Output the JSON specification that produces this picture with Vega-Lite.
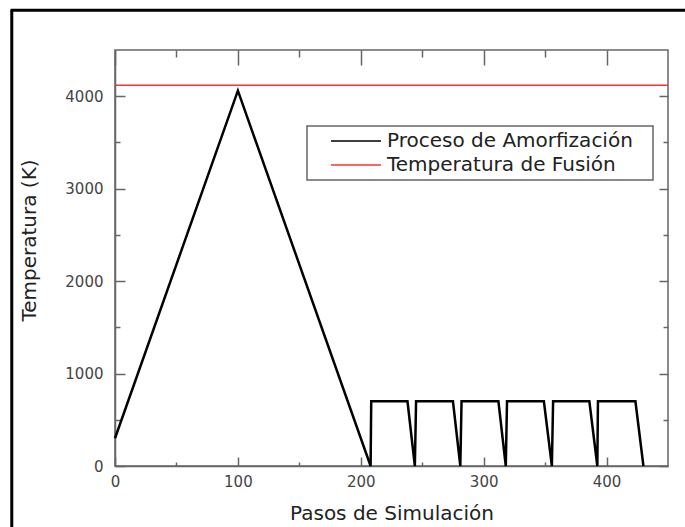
{
  "$schema": "https://vega.github.io/schema/vega-lite/v6.json",
  "width": 553,
  "height": 416,
  "autosize": {"type": "none"},
  "padding": {"left": 115, "top": 50, "right": 17, "bottom": 61},
  "background": "white",
  "config": {
    "font": "DejaVu Sans",
    "view": {"stroke": "#666", "strokeWidth": 1.5},
    "legend": {"strokeWidth": 1.5, "symbolStrokeWidth": 1.5},
    "axis": {
      "domainColor": "#666",
      "domainWidth": 1.5,
      "tickColor": "#666",
      "tickWidth": 1.5,
      "labelColor": "#444",
      "labelFont": "DejaVu Sans",
      "labelFontSize": 15,
      "labelFlush": false,
      "titleColor": "#222",
      "titleFont": "DejaVu Sans",
      "titleFontSize": 20,
      "titleFontWeight": "normal",
      "grid": false
    }
  },
  "datasets": {
    "proceso": [
      {"paso": 0, "temperatura": 300, "serie": "Proceso de Amorfización"},
      {"paso": 100, "temperatura": 4060, "serie": "Proceso de Amorfización"},
      {"paso": 208, "temperatura": 0, "serie": "Proceso de Amorfización"},
      {"paso": 208.5, "temperatura": 700, "serie": "Proceso de Amorfización"},
      {"paso": 238, "temperatura": 700, "serie": "Proceso de Amorfización"},
      {"paso": 244, "temperatura": 0, "serie": "Proceso de Amorfización"},
      {"paso": 245, "temperatura": 700, "serie": "Proceso de Amorfización"},
      {"paso": 275, "temperatura": 700, "serie": "Proceso de Amorfización"},
      {"paso": 281, "temperatura": 0, "serie": "Proceso de Amorfización"},
      {"paso": 282, "temperatura": 700, "serie": "Proceso de Amorfización"},
      {"paso": 312, "temperatura": 700, "serie": "Proceso de Amorfización"},
      {"paso": 318, "temperatura": 0, "serie": "Proceso de Amorfización"},
      {"paso": 319, "temperatura": 700, "serie": "Proceso de Amorfización"},
      {"paso": 349, "temperatura": 700, "serie": "Proceso de Amorfización"},
      {"paso": 355.5, "temperatura": 0, "serie": "Proceso de Amorfización"},
      {"paso": 356.5, "temperatura": 700, "serie": "Proceso de Amorfización"},
      {"paso": 386, "temperatura": 700, "serie": "Proceso de Amorfización"},
      {"paso": 392.5, "temperatura": 0, "serie": "Proceso de Amorfización"},
      {"paso": 393, "temperatura": 700, "serie": "Proceso de Amorfización"},
      {"paso": 423.5, "temperatura": 700, "serie": "Proceso de Amorfización"},
      {"paso": 430, "temperatura": 0, "serie": "Proceso de Amorfización"}
    ],
    "fusion": [
      {"temperatura": 4120, "serie": "Temperatura de Fusión"}
    ]
  },
  "layer": [
    {
      "data": {"values": [{}]},
      "mark": {"type": "rule", "color": "black", "strokeWidth": 3},
      "encoding": {
        "x": {"datum": -84, "type": "quantitative", "scale": {"domain": [0, 450], "nice": false, "zero": false}, "axis": null},
        "y": {"datum": 4930, "type": "quantitative", "scale": {"domain": [0, 4500], "nice": false}, "axis": null},
        "y2": {"datum": -800}
      }
    },
    {
      "data": {"values": [{}]},
      "mark": {"type": "rule", "color": "black", "strokeWidth": 3},
      "encoding": {
        "x": {"datum": -85, "type": "quantitative", "axis": null},
        "x2": {"datum": 500},
        "y": {"datum": 4930, "type": "quantitative", "axis": null}
      }
    },
    {
      "data": {"name": "proceso"},
      "mark": {"type": "line", "strokeWidth": 2.5, "strokeJoin": "miter"},
      "encoding": {
        "x": {
          "field": "paso",
          "type": "quantitative",
          "axis": {
            "orient": "bottom",
            "title": "Pasos de Simulación",
            "values": [0, 50, 100, 150, 200, 250, 300, 350, 400],
            "labelExpr": "datum.value % 100 === 0 ? datum.label : ''",
            "tickSize": {"condition": {"test": "datum.value % 100 === 0", "value": -9}, "value": -4},
            "labelPadding": 17,
            "titlePadding": 14
          }
        },
        "y": {
          "field": "temperatura",
          "type": "quantitative",
          "axis": {
            "orient": "left",
            "title": "Temperatura (K)",
            "values": [0, 500, 1000, 1500, 2000, 2500, 3000, 3500, 4000],
            "labelExpr": "datum.value % 1000 === 0 ? datum.label : ''",
            "format": "d",
            "tickSize": {"condition": {"test": "datum.value % 1000 === 0", "value": -10}, "value": -5},
            "labelPadding": 22,
            "titleX": -86,
            "titleY": 190,
            "titleBaseline": "middle"
          }
        },
        "color": {
          "field": "serie",
          "type": "nominal",
          "scale": {
            "domain": ["Proceso de Amorfización", "Temperatura de Fusión"],
            "range": ["black", "#ff3030"]
          },
          "legend": {
            "orient": "none",
            "legendX": 192,
            "legendY": 76,
            "title": null,
            "symbolType": "M-5,0H5",
            "symbolSize": 100,
            "symbolOffset": 34,
            "labelFont": "DejaVu Sans",
            "labelFontSize": 20,
            "labelColor": "#222",
            "labelOffset": 21,
            "labelExpr": "datum.label + '\u2800'",
            "rowPadding": 4,
            "padding": 5,
            "strokeColor": "#666",
            "fillColor": "white",
            "labelLimit": 400
          }
        }
      }
    },
    {
      "data": {"name": "fusion"},
      "mark": {"type": "rule", "strokeWidth": 1.5},
      "encoding": {
        "y": {
          "field": "temperatura",
          "type": "quantitative",
          "axis": {
            "orient": "right",
            "title": null,
            "values": [0, 500, 1000, 1500, 2000, 2500, 3000, 3500, 4000],
            "labels": false,
            "domain": false,
            "tickSize": {"condition": {"test": "datum.value % 1000 === 0", "value": -9}, "value": -5}
          }
        },
        "x": {
          "datum": 0,
          "type": "quantitative",
          "axis": {
            "orient": "top",
            "title": null,
            "values": [0, 50, 100, 150, 200, 250, 300, 350, 400],
            "labels": false,
            "domain": false,
            "tickSize": {"condition": {"test": "datum.value % 100 === 0", "value": -15}, "value": -7}
          }
        },
        "x2": {"datum": 450},
        "color": {"field": "serie", "type": "nominal"}
      }
    }
  ],
  "resolve": {"axis": {"x": "independent", "y": "independent"}}
}
